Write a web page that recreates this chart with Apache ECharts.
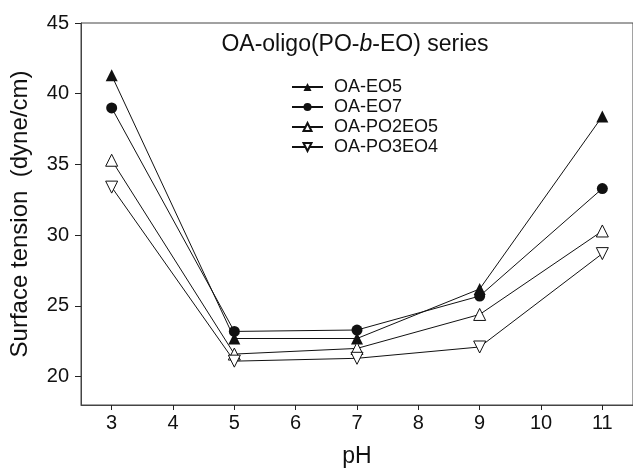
<!DOCTYPE html>
<html>
<head>
<meta charset="utf-8">
<style>
  html, body { margin: 0; padding: 0; background: #fff; }
  #chart { width: 633px; height: 473px; }
</style>
<script src="https://cdn.jsdelivr.net/npm/echarts@6/dist/echarts.min.js"></script>
</head>
<body>
<div id="chart"></div>
<script>
// pH values and surface tension (dyne/cm) for each surfactant
const phValues = [3, 5, 7, 9, 11];
const oaEO5 = [41.3, 22.7, 22.7, 26.2, 38.4];
const oaEO7 = [39.0, 23.2, 23.3, 25.7, 33.3];
const oaPO2EO5 = [35.3, 21.6, 22.0, 24.4, 30.3];
const oaPO3EO4 = [33.4, 21.1, 21.3, 22.1, 28.7];

const xTicks = [3, 4, 5, 6, 7, 8, 9, 10, 11];
const yTicks = [20, 25, 30, 35, 40, 45];

const FONT = '"Liberation Sans", Arial, sans-serif';

function pairs(values) {
  return phValues.map((x, i) => [x, values[i]]);
}

function makeSeries(name, values, symbol, filled, rotate) {
  return {
    name: name,
    type: 'line',
    data: pairs(values),
    symbol: symbol,
    symbolSize: symbol === 'circle' ? 11 : 12,
    symbolRotate: rotate || 0,
    showAllSymbol: true,
    lineStyle: { color: '#111', width: 1 },
    itemStyle: {
      color: filled ? '#111' : '#fff',
      borderColor: '#111',
      borderWidth: filled ? 0 : 1
    },
    emphasis: { disabled: true },
    animation: false
  };
}

const chart = echarts.init(document.getElementById('chart'), null, { renderer: 'canvas' });

chart.setOption({
  backgroundColor: '#fff',
  animation: false,
  title: {
    text: '{a|OA-oligo(PO-}{i|b}{a|-EO) series}',
    left: 355,
    textAlign: 'center',
    top: 33,
    padding: 0,
    textStyle: {
      fontWeight: 'normal',
      rich: {
        a: { fontFamily: FONT, fontSize: 23, fontWeight: 'normal', color: '#111' },
        i: { fontFamily: FONT, fontSize: 23, fontWeight: 'normal', color: '#111', fontStyle: 'italic' }
      }
    }
  },
  legend: {
    orient: 'vertical',
    left: 291,
    top: 78,
    padding: 0,
    itemWidth: 31,
    itemHeight: 10,
    itemGap: 2,
    textStyle: { fontFamily: FONT, fontSize: 18, lineHeight: 18, color: '#111', padding: [0, 0, 0, 6] },
    data: ['OA-EO5', 'OA-EO7', 'OA-PO2EO5', 'OA-PO3EO4']
  },
  grid: {
    left: 81,
    top: 23,
    right: -2,
    bottom: 64,
    show: true,
    borderColor: '#444',
    borderWidth: 1
  },
  xAxis: {
    type: 'value',
    min: 2.5,
    max: 11.5,
    name: 'pH',
    nameLocation: 'middle',
    nameGap: 40,
    nameTextStyle: { fontFamily: FONT, fontSize: 23, color: '#111' },
    splitLine: { show: false },
    axisLine: { show: true, lineStyle: { color: '#444', width: 1 } },
    axisTick: { show: true, length: 5, customValues: xTicks, lineStyle: { color: '#222' } },
    axisLabel: {
      customValues: xTicks,
      margin: 8,
      fontFamily: FONT,
      fontSize: 20,
      color: '#111'
    }
  },
  yAxis: {
    type: 'value',
    min: 18,
    max: 45,
    name: 'Surface tension  (dyne/cm)',
    nameLocation: 'middle',
    nameGap: 49,
    nameTextStyle: { fontFamily: FONT, fontSize: 24, color: '#111' },
    splitLine: { show: false },
    axisLine: { show: true, lineStyle: { color: '#444', width: 1 } },
    axisTick: { show: true, length: 6, customValues: yTicks, lineStyle: { color: '#222' } },
    axisLabel: {
      customValues: yTicks,
      margin: 12,
      fontFamily: FONT,
      fontSize: 20,
      color: '#111'
    }
  },
  series: [
    makeSeries('OA-EO5', oaEO5, 'triangle', true),
    makeSeries('OA-EO7', oaEO7, 'circle', true),
    makeSeries('OA-PO2EO5', oaPO2EO5, 'triangle', false),
    makeSeries('OA-PO3EO4', oaPO3EO4, 'triangle', false, 180)
  ]
});
</script>
</body>
</html>
